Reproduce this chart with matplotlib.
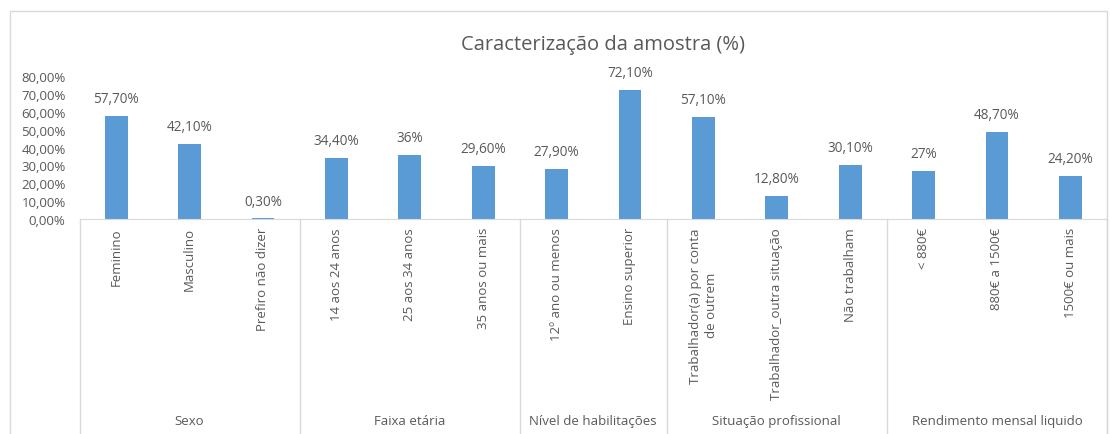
import matplotlib
matplotlib.use("Agg")
import matplotlib.pyplot as plt
import matplotlib.transforms as mtrans
from matplotlib.lines import Line2D
from matplotlib.patches import Rectangle

plt.rcParams['font.family'] = ['Open Sans', 'DejaVu Sans']

categories = ["Feminino", "Masculino", "Prefiro não dizer",
              "14 aos 24 anos", "25 aos 34 anos", "35 anos ou mais",
              "12º ano ou menos", "Ensino superior",
              "Trabalhador(a) por conta\nde outrem", "Trabalhador_outra situação", "Não trabalham",
              "< 880€", "880€ a 1500€", "1500€ ou mais"]
values = [57.7, 42.1, 0.3, 34.4, 36, 29.6, 27.9, 72.1, 57.1, 12.8, 30.1, 27, 48.7, 24.2]
value_labels = ["57,70%", "42,10%", "0,30%", "34,40%", "36%", "29,60%", "27,90%",
                "72,10%", "57,10%", "12,80%", "30,10%", "27%", "48,70%", "24,20%"]
groups = ["Sexo", "Faixa etária", "Nível de habilitações", "Situação profissional",
          "Rendimento mensal liquido"]
group_sizes = [3, 3, 2, 3, 3]
yticks = [0, 10, 20, 30, 40, 50, 60, 70, 80]

W, H = 1110, 435
TXT = "#595959"
GRID = "#D9D9D9"
BAR = "#5B9BD5"
FS = 9.5

fig = plt.figure(figsize=(W / 100, H / 100), dpi=100)

def fy(py):
    return (H - py) / H

# outer chart border
fig.patches.append(Rectangle((10 / W, -0.01), (1107 - 10) / W, fy(12) + 0.01,
                             transform=fig.transFigure, fill=False,
                             edgecolor=GRID, linewidth=1))

x0, x1, y0, y1 = 79.5, 1107, 220, 77
ax = fig.add_axes([x0 / W, fy(y0), (x1 - x0) / W, (y0 - y1) / H])
xs = list(range(len(categories)))
ax.bar(xs, values, width=0.31, color=BAR)
ax.set_xlim(-0.5, len(categories) - 0.5)
ax.set_ylim(0, 80)
ax.set_yticks(yticks)
ax.set_yticklabels([("%.2f%%" % v).replace(".", ",") for v in yticks],
                   fontsize=FS, color=TXT)
ax.tick_params(axis='y', length=0, pad=10)
ax.set_xticks([])
for s in ["top", "left", "right"]:
    ax.spines[s].set_visible(False)
ax.spines["bottom"].set_color(GRID)

for x, v, lab in zip(xs, values, value_labels):
    ax.annotate(lab, (x, v), xytext=(0, 7), textcoords="offset points",
                ha="center", va="bottom", fontsize=FS + 0.3, color=TXT)

tr = mtrans.blended_transform_factory(ax.transData, fig.transFigure)
for x, lab in zip(xs, categories):
    ax.text(x, fy(228), lab, transform=tr, rotation=90, ha="center", va="top",
            multialignment="center", fontsize=FS, color=TXT, linespacing=1.3)

# group separators and labels
start = 0
edges = [-0.5]
for g, n in zip(groups, group_sizes):
    mid = start + (n - 1) / 2
    ax.text(mid, fy(422), g, transform=tr, ha="center", va="center",
            fontsize=FS, color=TXT)
    start += n
    edges.append(start - 0.5)
for e in edges:
    ax.add_line(Line2D([e, e], [fy(y0), -0.01], transform=tr, color=GRID,
                       linewidth=1, clip_on=False))

fig.text(603 / W, fy(45), "Caracterização da amostra (%)", ha="center", va="center",
         fontsize=14.5, color=TXT)

fig.savefig("out.png", dpi=100)
